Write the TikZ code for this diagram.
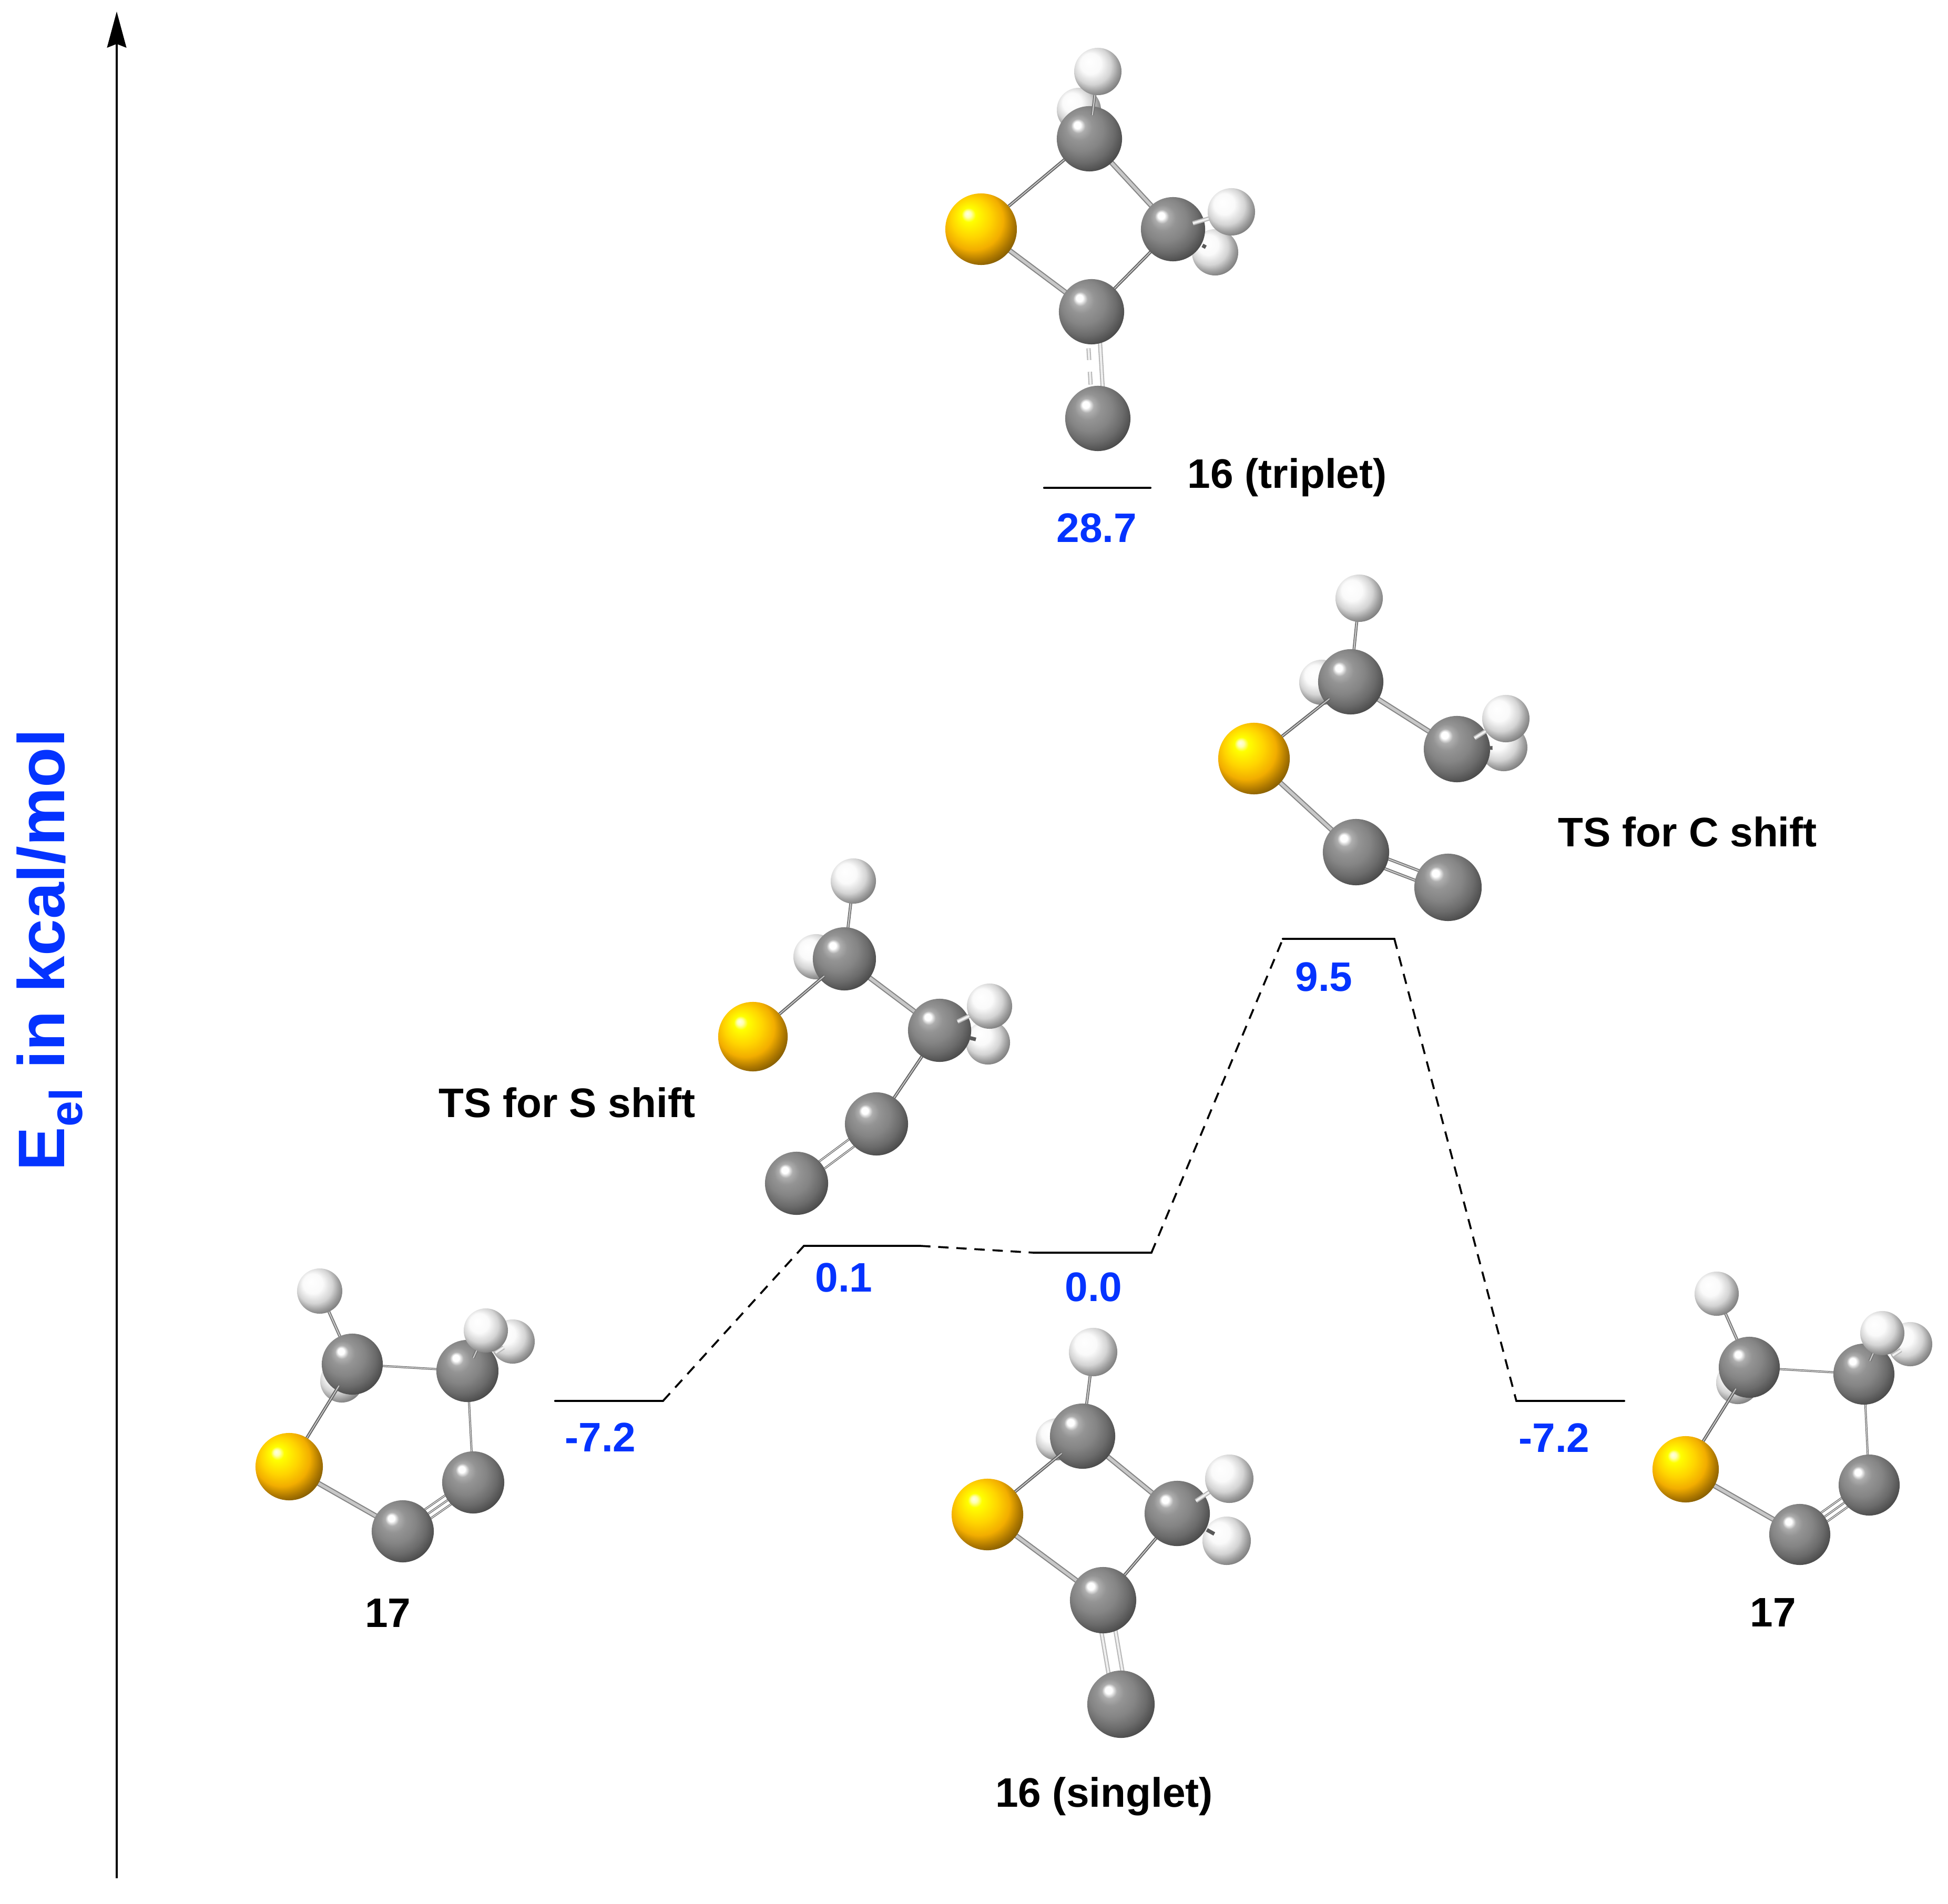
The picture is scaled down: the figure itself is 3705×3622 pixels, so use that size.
\documentclass[tikz,border=0pt]{standalone}
\usepackage{fontspec}
\setmainfont{Liberation Sans}
\usetikzlibrary{calc,arrows.meta}
\definecolor{eblue}{RGB}{4,51,255}
\pgfdeclareradialshading{cshade}{\pgfpoint{-9.7bp}{11bp}}{rgb(0bp)=(1,1,1); rgb(2.6bp)=(1,1,1); rgb(5.5bp)=(.68,.68,.68); rgb(10bp)=(.58,.58,.58); rgb(17bp)=(.52,.52,.52); rgb(24bp)=(.42,.42,.42); rgb(30bp)=(.3,.3,.3); rgb(36bp)=(.2,.2,.2); rgb(50bp)=(.2,.2,.2)}
\pgfdeclareradialshading{sshade}{\pgfpoint{-9.7bp}{11bp}}{rgb(0bp)=(1,1,.9); rgb(2.2bp)=(1,1,.7); rgb(5bp)=(1,1,0); rgb(14bp)=(1,.83,0); rgb(21bp)=(.95,.68,0); rgb(27bp)=(.68,.47,0); rgb(33bp)=(.42,.3,0); rgb(38bp)=(.33,.24,0); rgb(50bp)=(.33,.24,0)}
\pgfdeclareradialshading{hshade}{\pgfpoint{-9.7bp}{10.5bp}}{rgb(0bp)=(1,1,1); rgb(11bp)=(.98,.98,.98); rgb(20bp)=(.83,.83,.83); rgb(26bp)=(.62,.62,.62); rgb(32bp)=(.44,.44,.44); rgb(38bp)=(.34,.34,.34); rgb(50bp)=(.34,.34,.34)}
\tikzset{
  atomnode/.style={circle,inner sep=0pt,outer sep=0pt,draw=none},
  bondthin/.style={draw=black!62,double=black!22,line width=0.55pt,double distance=0.55pt},
  bondthick/.style={draw=black!48,double=black!22,line width=0.6pt,double distance=1.6pt},
  bondlight/.style={draw=black!28,double=black!6,line width=0.6pt,double distance=1.1pt},
  bonddark/.style={draw=black!65,line width=2pt},
  bondmid/.style={draw=black!55,double=black!20,line width=0.5pt,double distance=0.6pt},
  bondfine/.style={draw=black!60,double=black!10,line width=0.35pt,double distance=0.4pt},
  level/.style={draw=black,line width=1.2pt,line cap=round,line join=round},
  linker/.style={draw=black,line width=1.05pt,dash pattern=on 5.6pt off 4.2pt},
  axisline/.style={draw=black,line width=1pt,-{Stealth[length=19.5pt,width=10.4pt,inset=2pt]}},
  mol/.style={font=\fontsize{22.3}{26}\selectfont\bfseries,text=black,inner sep=0pt,anchor=base},
  val/.style={font=\fontsize{22.3}{26}\selectfont\bfseries,text=eblue,inner sep=0pt,anchor=base},
}
% coordinate, atom and bond helpers
\newcommand{\pt}[3]{\coordinate (#1) at (#2,#3);}
\newcommand{\at}[3]{\node[atomnode,shading=#3,minimum size=#2*0.02cm] (#1n) at (#1) {};}
\newcommand{\bs}[6][bondthin]{%
  \path ($(#2)!#6!90:(#3)$) coordinate (tmpA) ($(#3)!#6!-90:(#2)$) coordinate (tmpB);
  \draw[#1] ($(tmpA)!#4!(tmpB)$) -- ($(tmpA)!#5!(tmpB)$);}
\newcommand{\bd}[3][bondthin]{\bs[#1]{#2}{#3}{0}{1}{0pt}}
\begin{document}
\begin{tikzpicture}[x=0.01cm,y=-0.01cm]
\useasboundingbox (0,0) rectangle (3705,3622);
% energy axis
\coordinate (axB) at (222,3573);
\coordinate (axT) at (222,22);
\draw[axisline] (axB) -- (axT);
\node[rotate=90,anchor=base,inner sep=0pt,text=eblue,font=\fontsize{35.6}{40}\selectfont\bfseries] (axlab) at (123,1807) {E\textsubscript{el} in kcal/mol};

% levels
\pt{La}{1056}{2665}\pt{Lb}{1261}{2665}
\pt{Lc}{1529}{2370}\pt{Ld}{1750}{2370}
\pt{Le}{1966}{2383}\pt{Lf}{2190}{2383}
\pt{Lg}{2440}{1786}\pt{Lh}{2652}{1786}
\pt{Li}{2884}{2665}\pt{Lj}{3089}{2665}
\pt{Lk}{1986}{928}\pt{Ll}{2188}{928}
\draw[level] (La) -- (Lb);
\draw[level] (Lc) -- (Ld);
\draw[level] (Le) -- (Lf);
\draw[level] (Lg) -- (Lh);
\draw[level] (Li) -- (Lj);
\draw[level] (Lk) -- (Ll);
\draw[linker] (Lb) -- (Lc);
\draw[linker] (Ld) -- (Le);
\draw[linker] (Lf) -- (Lg);
\draw[linker] (Lh) -- (Li);

% energies
\node[val] (v1) at (1142,2761) {-7.2};
\node[val] (v2) at (1605,2457) {0.1};
\node[val] (v3) at (2080,2475) {0.0};
\node[val] (v4) at (2518,1885) {9.5};
\node[val] (v5) at (2956,2762) {-7.2};
\node[val] (v6) at (2086,1032) {28.7};

% names
\node[mol,anchor=base west] (t1) at (2258,929) {16 (triplet)};
\node[mol,anchor=base east] (t2) at (1323,2125) {TS for S shift};
\node[mol,anchor=base west] (t3) at (2963,1610) {TS for C shift};
\node[mol] (t4) at (2100,3437) {16 (singlet)};
\node[mol] (t5) at (738,3095) {17};
\node[mol] (t6) at (3372,3094) {17};

% --- molecule: 16 (triplet)
\pt{aH}{2088}{136}\pt{aHb}{2052}{209}\pt{aC}{2072}{264}\pt{aS}{1866}{436}\pt{aD}{2231}{436}
\pt{aHc}{2342}{403}\pt{aHd}{2311}{480}\pt{aE}{2076}{593}\pt{aF}{2088}{796}
\at{aHb}{42}{hshade}
\bd[bondthin]{aS}{aC}\bd[bondthick]{aC}{aD}\bd[bondthick]{aS}{aE}\bd[bondthin]{aE}{aD}
\bs[bondlight]{aE}{aF}{0}{1}{3.6pt}
\bs[bondlight]{aE}{aF}{.34}{.45}{-2.8pt}
\bs[bondlight]{aE}{aF}{.56}{.68}{-2.8pt}
\at{aC}{62}{cshade}
\bs[bondmid]{aC}{aH}{.35}{1}{0pt}
\at{aH}{45}{hshade}\at{aS}{68}{sshade}\at{aHd}{44}{hshade}\at{aD}{61}{cshade}
\at{aE}{62}{cshade}\at{aF}{62}{cshade}
\bs[bonddark]{aD}{aHd}{.7}{.78}{0pt}
\bs[bondlight]{aD}{aHc}{.34}{1}{0pt}
\at{aHc}{45}{hshade}

% --- molecule: TS for S shift
\pt{bH}{1623}{1676}\pt{bHb}{1552}{1820}\pt{bC}{1606}{1824}\pt{bS}{1432}{1972}\pt{bD}{1787}{1960}
\pt{bHc}{1882}{1914}\pt{bHd}{1879}{1983}\pt{bE}{1667}{2138}\pt{bF}{1515}{2251}
\at{bHb}{43}{hshade}
\bd[bondmid]{bC}{bH}\bd[bondthick]{bC}{bD}\bd[bondthin]{bD}{bE}
\bs[bondfine]{bE}{bF}{0}{1}{2.6pt}\bs[bondfine]{bE}{bF}{0}{1}{-2.2pt}
\at{bC}{60}{cshade}
\bs[bondthin]{bS}{bC}{0}{.78}{0pt}
\at{bH}{43}{hshade}\at{bS}{66}{sshade}\at{bHd}{42}{hshade}\at{bD}{60}{cshade}
\at{bE}{60}{cshade}\at{bF}{60}{cshade}
\bs[bonddark]{bD}{bHd}{.62}{.75}{0pt}
\bs[bondlight]{bD}{bHc}{.36}{1}{0pt}
\at{bHc}{43}{hshade}

% --- molecule: TS for C shift
\pt{cH}{2585}{1138}\pt{cHb}{2514}{1298}\pt{cC}{2569}{1297}\pt{cS}{2385}{1443}\pt{cD}{2771}{1425}
\pt{cHc}{2864}{1367}\pt{cHd}{2860}{1422}\pt{cE}{2579}{1621}\pt{cF}{2754}{1688}
\at{cHb}{43}{hshade}
\bd[bondmid]{cC}{cH}\bd[bondthick]{cC}{cD}\bd[bondthick]{cS}{cE}
\bs[bondmid]{cE}{cF}{0}{1}{2.8pt}\bs[bondmid]{cE}{cF}{0}{1}{-2.8pt}
\at{cC}{62}{cshade}
\bs[bondthin]{cS}{cC}{0}{.78}{0pt}
\at{cH}{45}{hshade}\at{cS}{68}{sshade}\at{cHd}{45}{hshade}\at{cD}{63}{cshade}
\at{cE}{63}{cshade}\at{cF}{64}{cshade}
\bs[bonddark]{cD}{cHd}{.68}{.76}{0pt}
\bs[bondlight]{cD}{cHc}{.36}{1}{0pt}
\at{cHc}{45}{hshade}

% --- molecule: 16 (singlet)
\pt{dH}{2079}{2572}\pt{dHb}{2010}{2738}\pt{dC}{2059}{2732}\pt{dS}{1878}{2881}\pt{dD}{2239}{2879}
\pt{dHc}{2338}{2813}\pt{dHd}{2333}{2931}\pt{dE}{2098}{3044}\pt{dF}{2132}{3242}
\at{dHb}{40}{hshade}
\bd[bondmid]{dC}{dH}\bd[bondthick]{dC}{dD}\bd[bondthick]{dS}{dE}\bd[bondthin]{dE}{dD}
\bs[bondlight]{dE}{dF}{0}{1}{3.8pt}\bs[bondlight]{dE}{dF}{0}{1}{-3.8pt}
\at{dC}{62}{cshade}
\bs[bondthin]{dS}{dC}{0}{.78}{0pt}
\at{dH}{46}{hshade}\at{dS}{68}{sshade}\at{dHd}{46}{hshade}\at{dD}{62}{cshade}
\at{dE}{63}{cshade}\at{dF}{64}{cshade}
\bs[bonddark]{dD}{dHd}{.6}{.75}{0pt}
\bs[bondlight]{dD}{dHc}{.36}{.8}{0pt}
\at{dHc}{46}{hshade}

% --- molecule: 17 (left)
\pt{eH}{608}{2456}\pt{eHb}{650}{2627}\pt{eC}{670}{2595}\pt{eD}{889}{2608}\pt{eHc}{924}{2531}
\pt{eHd}{975}{2552}\pt{eS}{550}{2790}\pt{eE}{900}{2820}\pt{eF}{766}{2913}
\at{eHb}{41}{hshade}
\bd[bondmid]{eC}{eH}\bd[bondfine]{eC}{eD}\bd[bondfine]{eD}{eE}\bd[bondthick]{eS}{eF}
\bs[bondfine]{eF}{eE}{0}{1}{2.9pt}\bd[bondfine]{eF}{eE}\bs[bondfine]{eF}{eE}{0}{1}{-2.9pt}
\at{eC}{58}{cshade}
\bs[bondthin]{eS}{eC}{0}{.79}{0pt}
\at{eH}{43}{hshade}\at{eS}{64}{sshade}\at{eHd}{42}{hshade}\at{eD}{59}{cshade}
\at{eE}{59}{cshade}\at{eF}{59}{cshade}
\bs[bondlight]{eD}{eHd}{.62}{.8}{0pt}
\bs[bondmid]{eD}{eHc}{.32}{.8}{0pt}
\at{eHc}{42}{hshade}

% --- molecule: 17 (right)
\pt{fH}{3265}{2461}\pt{fHb}{3305}{2630}\pt{fC}{3327}{2601}\pt{fD}{3545}{2614}\pt{fHc}{3580}{2536}
\pt{fHd}{3633}{2557}\pt{fS}{3206}{2795}\pt{fE}{3555}{2825}\pt{fF}{3423}{2919}
\at{fHb}{41}{hshade}
\bd[bondmid]{fC}{fH}\bd[bondfine]{fC}{fD}\bd[bondfine]{fD}{fE}\bd[bondthick]{fS}{fF}
\bs[bondfine]{fF}{fE}{0}{1}{2.9pt}\bd[bondfine]{fF}{fE}\bs[bondfine]{fF}{fE}{0}{1}{-2.9pt}
\at{fC}{58}{cshade}
\bs[bondthin]{fS}{fC}{0}{.79}{0pt}
\at{fH}{42}{hshade}\at{fS}{63}{sshade}\at{fHd}{42}{hshade}\at{fD}{58}{cshade}
\at{fE}{58}{cshade}\at{fF}{58}{cshade}
\bs[bondlight]{fD}{fHd}{.62}{.8}{0pt}
\bs[bondmid]{fD}{fHc}{.32}{.8}{0pt}
\at{fHc}{42}{hshade}
\end{tikzpicture}
\end{document}
